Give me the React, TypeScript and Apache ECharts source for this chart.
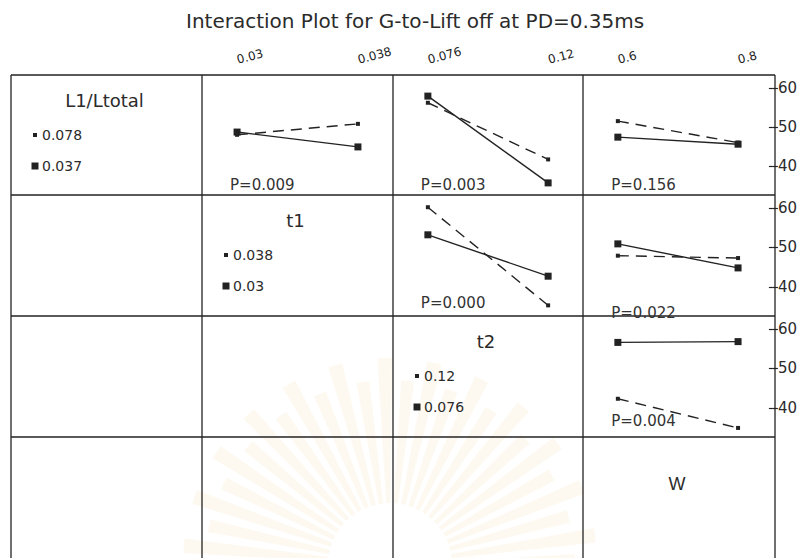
import React, { useEffect, useRef } from 'react';
import * as echarts from 'echarts';

// ---- data ----
const titleText = 'Interaction Plot for G-to-Lift off at PD=0.35ms';
const factorNames = ['L1/Ltotal', 't1', 't2', 'W'];
const lowLevels = [0.037, 0.03, 0.076, 0.6];
const highLevels = [0.078, 0.038, 0.12, 0.8];
const lowLevelLabels = ['0.037', '0.03', '0.076', '0.6'];
const highLevelLabels = ['0.078', '0.038', '0.12', '0.8'];

// each panel: [trace factor, x factor]
const panelPairs = [
  [0, 1],
  [0, 2],
  [0, 3],
  [1, 2],
  [1, 3],
  [2, 3],
];
// mean response for the low level of the trace factor (solid line)
const lowTraceMeans = [
  [48.7, 44.9],
  [57.9, 35.7],
  [47.4, 45.6],
  [53.2, 42.7],
  [50.9, 44.8],
  [56.6, 56.8],
];
// mean response for the high level of the trace factor (dashed line)
const highTraceMeans = [
  [48.0, 50.8],
  [56.2, 41.7],
  [51.5, 46.0],
  [60.2, 35.3],
  [47.9, 47.3],
  [42.3, 34.9],
];
const pValues = ['P=0.009', 'P=0.003', 'P=0.156', 'P=0.000', 'P=0.022', 'P=0.004'];
const yTicks = [40, 50, 60];

// ---- layout ----
const colX = [11, 202, 393, 583, 775];
const rowY = [75, 195, 316, 437, 566];
const X_PAD = 0.29;
const Y_MIN = 32.6;
const Y_MAX = 63.3;
const pLabelDy = [110, 110, 110, 108, 118, 105];
const pLabelDx = -7;
const FONT = 'DejaVu Sans';
const INK = '#222';
const TEXT = '#2b2b2b';

function buildOption() {
  const grids: any[] = [];
  const xAxes: any[] = [];
  const yAxes: any[] = [];
  const series: any[] = [];
  const graphics: any[] = [];

  // faint emblem behind the lower cells
  const cx = 390;
  const cy = 565;
  const rays = 27;
  for (let i = 0; i < rays; i++) {
    const a0 = Math.PI * 0.98 + (i * Math.PI * 1.04) / rays;
    graphics.push({
      type: 'sector',
      silent: true,
      shape: { cx, cy, r0: 62, r: 185 + (i % 2) * 22, startAngle: a0, endAngle: a0 + 0.07 },
      style: { fill: 'rgba(238, 206, 140, 0.13)' },
    });
  }

  // cell borders
  for (let i = 0; i < 4; i++) {
    graphics.push({
      type: 'line',
      silent: true,
      shape: { x1: colX[0], y1: rowY[i], x2: colX[4], y2: rowY[i] },
      style: { stroke: INK, lineWidth: 1.3 },
    });
  }
  for (let i = 0; i < 5; i++) {
    graphics.push({
      type: 'line',
      silent: true,
      shape: { x1: colX[i], y1: rowY[0], x2: colX[i], y2: rowY[4] },
      style: { stroke: INK, lineWidth: 1.3 },
    });
  }

  // title
  graphics.push({
    type: 'text',
    x: 186,
    y: 21,
    style: { text: titleText, fontSize: 20, fontFamily: FONT, fill: TEXT, align: 'left', verticalAlign: 'middle' },
  });

  // factor names and trace keys on the diagonal
  factorNames.forEach((name, d) => {
    const left = colX[d];
    const top = rowY[d];
    const mid = (colX[d] + colX[d + 1]) / 2 - 2;
    const isLast = d === factorNames.length - 1;
    graphics.push({
      type: 'text',
      x: mid,
      y: top + (isLast ? 47 : 25),
      style: {
        text: name,
        fontSize: 18,
        fontFamily: isLast ? 'Liberation Sans' : FONT,
        fill: TEXT,
        align: 'center',
        verticalAlign: 'middle',
      },
    });
    if (!isLast) {
      const keys = [
        { label: highLevelLabels[d], size: 4, dy: 60 },
        { label: lowLevelLabels[d], size: 7, dy: 91 },
      ];
      keys.forEach((k) => {
        graphics.push({
          type: 'rect',
          silent: true,
          shape: { x: left + 24 - k.size / 2, y: top + k.dy - k.size / 2, width: k.size, height: k.size },
          style: { fill: INK },
        });
        graphics.push({
          type: 'text',
          x: left + 31,
          y: top + k.dy,
          style: { text: k.label, fontSize: 14, fontFamily: FONT, fill: TEXT, align: 'left', verticalAlign: 'middle' },
        });
      });
    }
  });

  panelPairs.forEach(([r, c], k) => {
    const lo = lowLevels[c];
    const hi = highLevels[c];
    const span = hi - lo;
    grids.push({
      left: colX[c],
      top: rowY[r],
      width: colX[c + 1] - colX[c],
      height: rowY[r + 1] - rowY[r],
      containLabel: false,
    });
    xAxes.push({
      type: 'value',
      gridIndex: k,
      min: lo - X_PAD * span,
      max: hi + X_PAD * span,
      position: 'top',
      show: r === 0,
      axisLine: { show: false },
      axisTick: { show: false },
      splitLine: { show: false },
      axisLabel: {
        customValues: [lo, hi],
        rotate: -15,
        align: 'left',
        verticalAlign: 'middle',
        margin: 15,
        fontSize: 12,
        fontFamily: FONT,
        color: INK,
        formatter: (v: number) => (Math.abs(v - lo) < span * 1e-6 ? lowLevelLabels[c] : highLevelLabels[c]),
      },
    });
    const yIdx = yAxes.length;
    const showY = c === 3;
    yAxes.push({
      type: 'value',
      gridIndex: k,
      min: Y_MIN,
      max: Y_MAX,
      position: 'right',
      show: showY,
      axisLine: { show: false },
      splitLine: { show: false },
      axisTick: { show: true, customValues: yTicks, length: 5, lineStyle: { color: INK, width: 1.2 } },
      axisLabel: { customValues: yTicks, margin: 5, fontSize: 15, fontFamily: FONT, color: TEXT },
    });
    if (showY) {
      yAxes.push({
        type: 'value',
        gridIndex: k,
        min: Y_MIN,
        max: Y_MAX,
        position: 'right',
        axisLine: { show: false },
        splitLine: { show: false },
        axisTick: { show: true, inside: true, customValues: yTicks, length: 4, lineStyle: { color: INK, width: 1.2 } },
        axisLabel: { show: false },
      });
    }
    series.push({
      type: 'line',
      xAxisIndex: k,
      yAxisIndex: yIdx,
      data: [
        [lo, lowTraceMeans[k][0]],
        [hi, lowTraceMeans[k][1]],
      ],
      symbol: 'rect',
      symbolSize: 7,
      showAllSymbol: true,
      lineStyle: { color: INK, width: 1.4 },
      itemStyle: { color: INK },
      silent: true,
      z: 4,
    });
    series.push({
      type: 'line',
      xAxisIndex: k,
      yAxisIndex: yIdx,
      data: [
        [lo, highTraceMeans[k][0]],
        [hi, highTraceMeans[k][1]],
      ],
      symbol: 'rect',
      symbolSize: 4,
      showAllSymbol: true,
      lineStyle: { color: INK, width: 1.4, type: [11, 7] },
      itemStyle: { color: INK },
      silent: true,
      z: 3,
    });
    graphics.push({
      type: 'text',
      x: (colX[c + 1] - colX[c]) * (X_PAD / (1 + 2 * X_PAD)) + colX[c] + pLabelDx,
      y: rowY[r] + pLabelDy[k],
      style: { text: pValues[k], fontSize: 15, fontFamily: FONT, fill: '#333', align: 'left', verticalAlign: 'middle' },
    });
  });

  return {
    animation: false,
    backgroundColor: '#fff',
    grid: grids,
    xAxis: xAxes,
    yAxis: yAxes,
    series,
    graphic: graphics,
  };
}

export default function App() {
  const ref = useRef<HTMLDivElement>(null);
  useEffect(() => {
    if (!ref.current) return;
    const chart = echarts.init(ref.current, null, { renderer: 'svg' });
    chart.setOption(buildOption() as any);
    return () => chart.dispose();
  }, []);
  return (
    <div
      ref={ref}
      style={{ position: 'fixed', left: 0, top: 0, width: 800, height: 558, background: '#fff' }}
    />
  );
}
